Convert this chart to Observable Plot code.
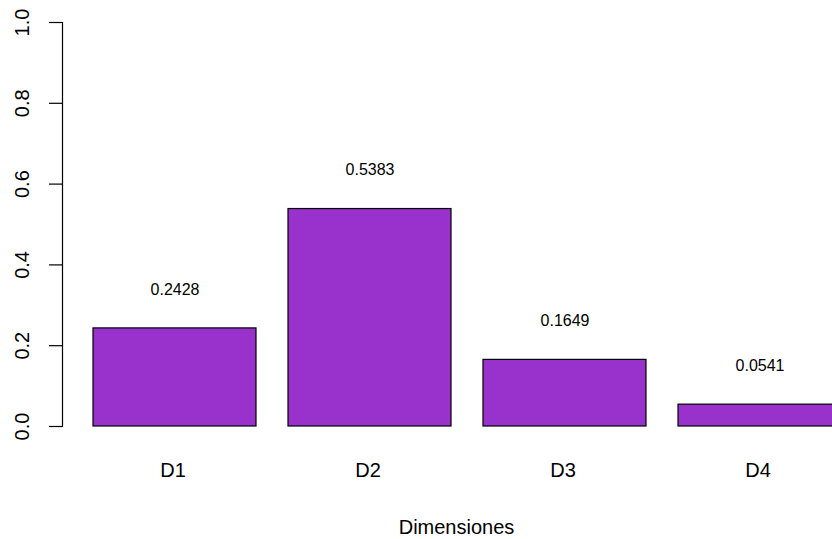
<!DOCTYPE html>
<html>
<head>
<meta charset="utf-8">
<script src="https://cdn.jsdelivr.net/npm/d3@7"></script>
<script src="https://cdn.jsdelivr.net/npm/@observablehq/plot@0.6"></script>
<style>
  html, body { margin: 0; padding: 0; background: #fff; overflow: hidden; }
  #chart svg { display: block; }
</style>
</head>
<body>
<div id="chart"></div>
<script>
const dims = ["D1", "D2", "D3", "D4"];
const values = [0.2428, 0.5383, 0.1649, 0.0541];
const yTicks = [0, 0.2, 0.4, 0.6, 0.8, 1.0];
const xTitle = "Dimensiones";

const data = dims.map((d, i) => ({dim: d, value: values[i]}));
const fmt1 = d3.format(".1f");

const chart = Plot.plot({
  width: 832,
  height: 539,
  marginTop: 22,
  marginBottom: 113,
  marginLeft: 62,
  marginRight: 0,
  style: {fontFamily: "'Liberation Sans', Arial, sans-serif", background: "#fff", overflow: "hidden", color: "#000"},
  x: {type: "band", domain: dims, range: [59.7, 874.7], paddingInner: 1/6, paddingOuter: 1/6},
  y: {domain: [0, 1]},
  marks: [
    Plot.barY(data, {x: "dim", y: "value", fill: "#9932CC", stroke: "#000", strokeWidth: 1.2}),
    Plot.text(data, {x: "dim", y: d => d.value + 0.1, text: d => d.value.toFixed(4), dy: 1.5, fontSize: 16, fill: "#000"}),
    Plot.axisY({ticks: yTicks, tickSize: 13, text: null, label: null, stroke: "#000", strokeWidth: 1.2}),
    Plot.frame({anchor: "left", stroke: "#000", strokeWidth: 1.2}),
    Plot.text(yTicks, {y: d => d, text: d => fmt1(d), frameAnchor: "left", textAnchor: "middle", dx: -40, rotate: -90, fontSize: 20, fill: "#000"}),
    Plot.axisX({tickSize: 0, tickPadding: 36, fontSize: 20, label: null, fill: "#000", dx: -2}),
    Plot.text([xTitle], {frameAnchor: "bottom", dx: 9, dy: 107, fontSize: 20, fill: "#000"})
  ]
});
document.getElementById("chart").appendChild(chart);
</script>
</body>
</html>
